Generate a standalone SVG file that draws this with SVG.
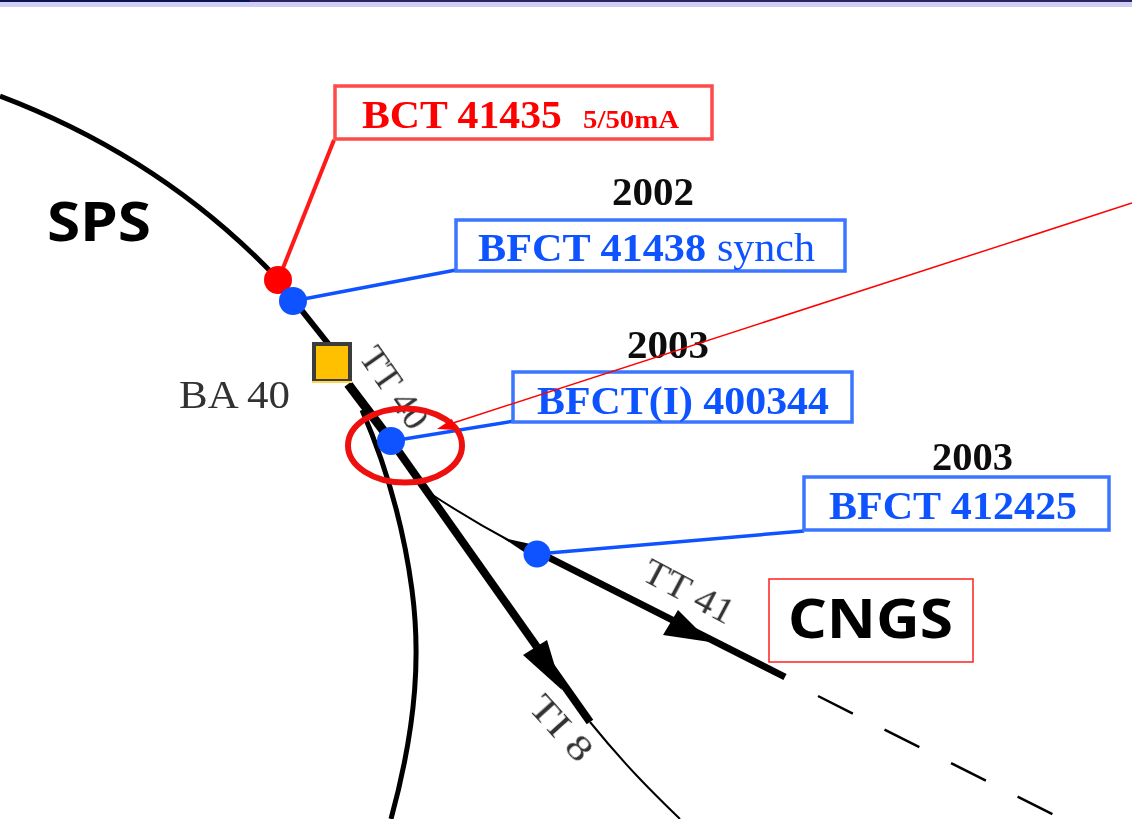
<svg xmlns="http://www.w3.org/2000/svg" width="1132" height="819" viewBox="0 0 1132 819">
<style>
.serif{font-family:"Liberation Serif","Times New Roman",serif;filter:url(#soft)}
.bold{font-weight:bold}
.sans{font-family:"Noto Sans","DejaVu Sans",sans-serif;font-weight:bold;fill:#000}
.blue{fill:#0f52ff}
.red{fill:#ff0000}
.year{font-size:41px;fill:#111;font-weight:bold}
.gray{fill:#333}
.bbox{fill:#fff;stroke:#3a76ff;stroke-width:3.5}
.rbox{fill:#fff;stroke:#ff4a4a;stroke-width:3.5}
.beam{fill:none;stroke:#000;stroke-linecap:butt}
.lead{fill:none;stroke:#0f52ff;stroke-width:3.5}
</style>
<defs><filter id="soft" x="-5%" y="-20%" width="110%" height="140%"><feGaussianBlur stdDeviation="0.7"/></filter></defs>
<rect id="top-band" x="0" y="0" width="1132" height="7" fill="#cfcdf6"/>
<rect x="0" y="0" width="250" height="2" fill="#0a1450"/>
<rect x="250" y="0" width="882" height="2" fill="#2c2460"/>
<g id="connectors">
<path class="beam" stroke-width="5" d="M0 96C95 132 190 188 272 273"/>
<path class="beam" stroke-width="6" d="M272 273L330 346"/>
<path class="beam" stroke-width="9" d="M348 384L392 442"/>
<path class="beam" stroke-width="5" d="M362 410C388 470 404 530 412 590C420 650 418 720 391 819"/>
<path class="beam" stroke-width="8" d="M392 442L590 722"/>
<path class="beam" stroke-width="2" d="M590 722C625 765 650 790 680 819"/>
<path class="beam" stroke-width="2" d="M425 490C455 510 480 525 510 541"/>
<path class="beam" stroke-width="7" d="M530 548L785 677"/>
<path fill="#000" d="M503 538L535 545L530 556Z"/>
<path fill="#000" d="M663 635L678 610L710 642Z"/>
<path fill="#000" d="M523 655L547 640L562 690Z"/>
<path class="beam" stroke-width="2.500" stroke-dasharray="39 35.5" d="M818 696L1058 817"/>
<path fill="none" stroke="#ff1a1a" stroke-width="4" d="M334 140L283 268"/>
<path class="lead" d="M293 301L456 270"/>
<path class="lead" d="M392 441L514 421"/>
<path class="lead" d="M537 554L804 531"/>
</g>
<g id="bct41435"><rect class="rbox" x="335" y="86" width="377" height="53"/>
<text class="serif bold red" x="362" y="128" font-size="41" textLength="200" lengthAdjust="spacingAndGlyphs">BCT 41435</text><text class="serif bold red" x="583" y="128" font-size="25" textLength="96" lengthAdjust="spacingAndGlyphs">5/50mA</text></g>
<g id="bfct41438"><rect class="bbox" x="456" y="220" width="389" height="51"/>
<text class="serif year" x="612" y="205" textLength="82" lengthAdjust="spacingAndGlyphs">2002</text>
<text class="serif bold blue" x="478" y="261" font-size="41" textLength="228" lengthAdjust="spacingAndGlyphs">BFCT 41438</text><text class="serif blue" x="717" y="261" font-size="41" textLength="98" lengthAdjust="spacingAndGlyphs">synch</text></g>
<g id="bfct400344"><rect class="bbox" x="513" y="372" width="339" height="50"/>
<text class="serif year" x="627" y="358" textLength="82" lengthAdjust="spacingAndGlyphs">2003</text>
<text class="serif bold blue" x="537" y="414" font-size="41" textLength="292" lengthAdjust="spacingAndGlyphs">BFCT(I) 400344</text></g>
<g id="bfct412425"><rect class="bbox" x="804" y="477" width="305" height="53"/>
<text class="serif year" x="932" y="470" textLength="81" lengthAdjust="spacingAndGlyphs">2003</text>
<text class="serif bold blue" x="829" y="519" font-size="41" textLength="248" lengthAdjust="spacingAndGlyphs">BFCT 412425</text></g>
<g id="cngs"><rect x="769" y="579" width="204" height="83" fill="#fff" stroke="#ff2020" stroke-width="1.5"/>
<text class="sans" x="788" y="638" font-size="53" textLength="165" lengthAdjust="spacingAndGlyphs">CNGS</text></g>
<text id="sps" class="sans" x="47" y="241" font-size="53" textLength="104" lengthAdjust="spacingAndGlyphs">SPS</text>
<g id="ba40"><rect x="314" y="344" width="36" height="37" fill="#ffc000" stroke="#3c3c3c" stroke-width="4"/>
<rect x="312" y="381" width="40" height="2" fill="#ffd84a"/>
<text class="serif gray" x="179" y="408" font-size="41" textLength="111" lengthAdjust="spacingAndGlyphs">BA 40</text></g>
<text id="tt40" class="serif gray" font-size="36" textLength="92" lengthAdjust="spacingAndGlyphs" transform="translate(358 357) rotate(55)">TT 40</text>
<text id="tt41" class="serif gray" font-size="36" textLength="98" lengthAdjust="spacingAndGlyphs" transform="translate(640 579) rotate(28)">TT 41</text>
<text id="ti8" class="serif gray" font-size="36" textLength="76" lengthAdjust="spacingAndGlyphs" transform="translate(527 708) rotate(48)">TI 8</text>
<g id="markers">
<circle id="m-red" cx="278" cy="280" r="14" fill="#ff0000"/>
<circle id="m1" cx="293" cy="301" r="14" fill="#0f52ff"/>
<circle id="m2" cx="391" cy="441" r="14" fill="#0f52ff"/>
<circle id="m3" cx="537" cy="554" r="13.500" fill="#0f52ff"/>
</g>
<ellipse id="highlight" cx="405" cy="445.500" rx="57" ry="37" fill="none" stroke="#ee0f0f" stroke-width="6"/>
<g id="pointer"><path fill="none" stroke="#ff0000" stroke-width="1.500" d="M1132 203L450 424"/>
<path fill="#ff0000" d="M437 429L452 419L456 430Z"/></g>
</svg>
